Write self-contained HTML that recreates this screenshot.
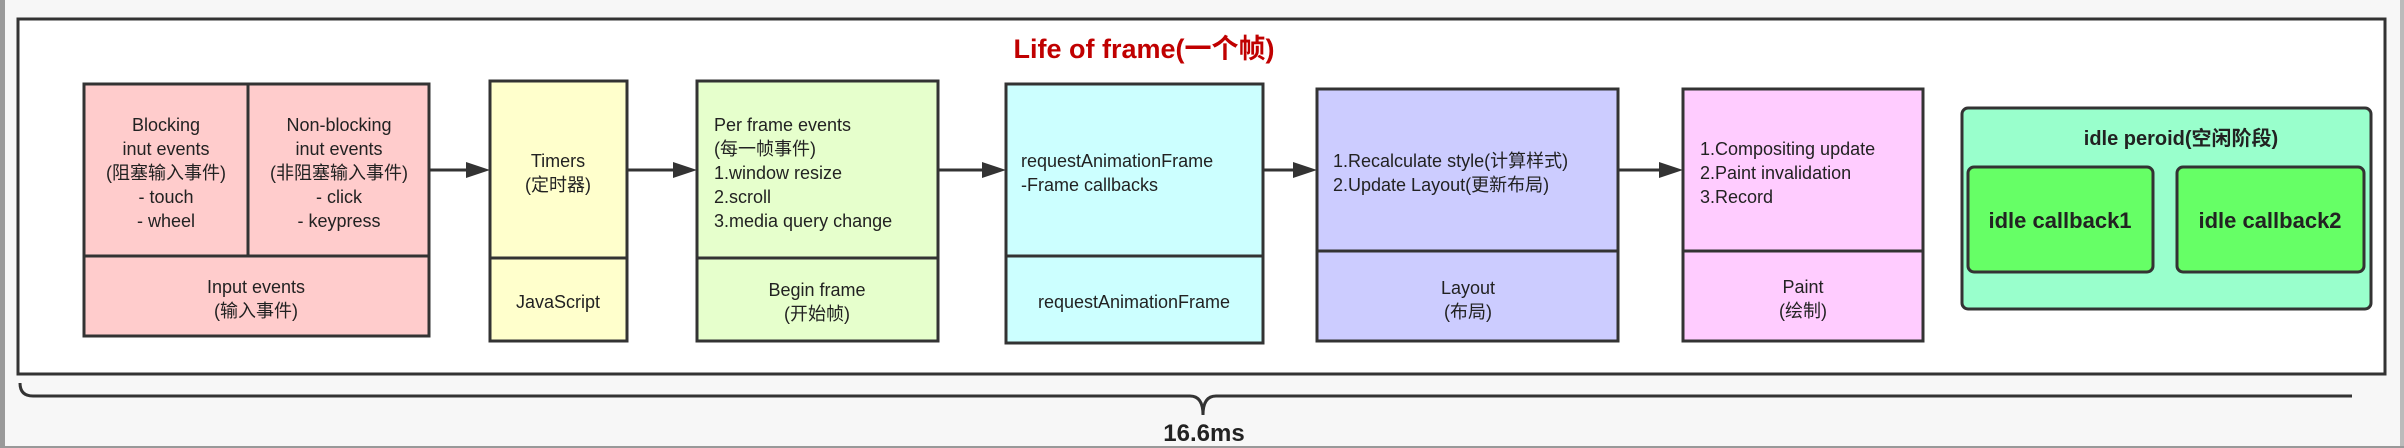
<!DOCTYPE html>
<html><head><meta charset="utf-8"><style>
html,body{margin:0;padding:0;background:#f7f7f7;}
svg{display:block;}
text{font-family:"Liberation Sans","Noto Sans CJK SC",sans-serif;fill:#222;font-size:18px;}
</style></head><body>
<svg width="2404" height="448" viewBox="0 0 2404 448" xmlns="http://www.w3.org/2000/svg">
<rect x="0" y="0" width="2404" height="448" fill="#f7f7f7"/>
<rect x="0" y="0" width="5" height="448" fill="#9a9a9a"/>
<rect x="2400" y="0" width="4" height="448" fill="#bbbbbb"/>
<rect x="0" y="446" width="2404" height="2" fill="#999"/>
<!-- outer frame -->
<rect x="18" y="19" width="2367" height="355" fill="#fff" stroke="#333" stroke-width="3"/>
<text x="1144" y="58" text-anchor="middle" font-weight="bold" style="font-size:27px;fill:#c00000">Life of frame(一个帧)</text>

<g stroke="#333" stroke-width="3">
<!-- box1 -->
<rect x="84" y="84" width="345" height="252" fill="#ffcccc"/>
<line x1="84" y1="256" x2="429" y2="256"/>
<line x1="248" y1="84" x2="248" y2="256"/>
<!-- box2 -->
<rect x="490" y="81" width="137" height="260" fill="#ffffcc"/>
<line x1="490" y1="258" x2="627" y2="258"/>
<!-- box3 -->
<rect x="697" y="81" width="241" height="260" fill="#e6ffcc"/>
<line x1="697" y1="258" x2="938" y2="258"/>
<!-- box4 -->
<rect x="1006" y="84" width="257" height="259" fill="#ccffff"/>
<line x1="1006" y1="256" x2="1263" y2="256"/>
<!-- box5 -->
<rect x="1317" y="89" width="301" height="252" fill="#ccccff"/>
<line x1="1317" y1="251" x2="1618" y2="251"/>
<!-- box6 -->
<rect x="1683" y="89" width="240" height="252" fill="#ffccff"/>
<line x1="1683" y1="251" x2="1923" y2="251"/>
<!-- idle -->
<rect x="1962" y="108" width="409" height="201" rx="6" fill="#99ffcc"/>
<rect x="1968" y="167" width="185" height="105" rx="6" fill="#66ff66"/>
<rect x="2177" y="167" width="187" height="105" rx="6" fill="#66ff66"/>
<!-- arrows -->
<line x1="429" y1="170" x2="468" y2="170"/>
<line x1="627" y1="170" x2="676" y2="170"/>
<line x1="938" y1="170" x2="984" y2="170"/>
<line x1="1263" y1="170" x2="1296" y2="170"/>
<line x1="1618" y1="170" x2="1662" y2="170"/>
</g>
<g fill="#333">
<polygon points="466,162 490,170 466,178"/>
<polygon points="673,162 697,170 673,178"/>
<polygon points="982,162 1006,170 982,178"/>
<polygon points="1293,162 1317,170 1293,178"/>
<polygon points="1659,162 1683,170 1659,178"/>
</g>

<!-- box1 text -->
<g text-anchor="middle">
<text x="166" y="131">Blocking</text>
<text x="166" y="155">inut events</text>
<text x="166" y="179">(阻塞输入事件)</text>
<text x="166" y="203">- touch</text>
<text x="166" y="227">- wheel</text>
<text x="339" y="131">Non-blocking</text>
<text x="339" y="155">inut events</text>
<text x="339" y="179">(非阻塞输入事件)</text>
<text x="339" y="203">- click</text>
<text x="339" y="227">- keypress</text>
<text x="256" y="293">Input events</text>
<text x="256" y="317">(输入事件)</text>
<text x="558" y="167">Timers</text>
<text x="558" y="191">(定时器)</text>
<text x="558" y="308">JavaScript</text>
<text x="817" y="296">Begin frame</text>
<text x="817" y="320">(开始帧)</text>
<text x="1134" y="308">requestAnimationFrame</text>
<text x="1468" y="294">Layout</text>
<text x="1468" y="318">(布局)</text>
<text x="1803" y="293">Paint</text>
<text x="1803" y="317">(绘制)</text>
<text x="2181" y="145" font-weight="bold" style="font-size:20px">idle peroid(空闲阶段)</text>
<text x="2060" y="228" font-weight="bold" style="font-size:22px">idle callback1</text>
<text x="2270" y="228" font-weight="bold" style="font-size:22px">idle callback2</text>
</g>
<text x="714" y="131">Per frame events</text>
<text x="714" y="155">(每一帧事件)</text>
<text x="714" y="179">1.window resize</text>
<text x="714" y="203">2.scroll</text>
<text x="714" y="227">3.media query change</text>
<text x="1021" y="167">requestAnimationFrame</text>
<text x="1021" y="191">-Frame callbacks</text>
<text x="1333" y="167">1.Recalculate style(计算样式)</text>
<text x="1333" y="191">2.Update Layout(更新布局)</text>
<text x="1700" y="155">1.Compositing update</text>
<text x="1700" y="179">2.Paint invalidation</text>
<text x="1700" y="203">3.Record</text>

<!-- bracket -->
<path d="M20 383 Q20 396 33 396 L1190 396 Q1203 396 1203 415 Q1203 396 1216 396 L2352 396" fill="none" stroke="#333" stroke-width="3"/>
<text x="1204" y="441" text-anchor="middle" font-weight="bold" style="font-size:24px">16.6ms</text>
</svg>
</body></html>
